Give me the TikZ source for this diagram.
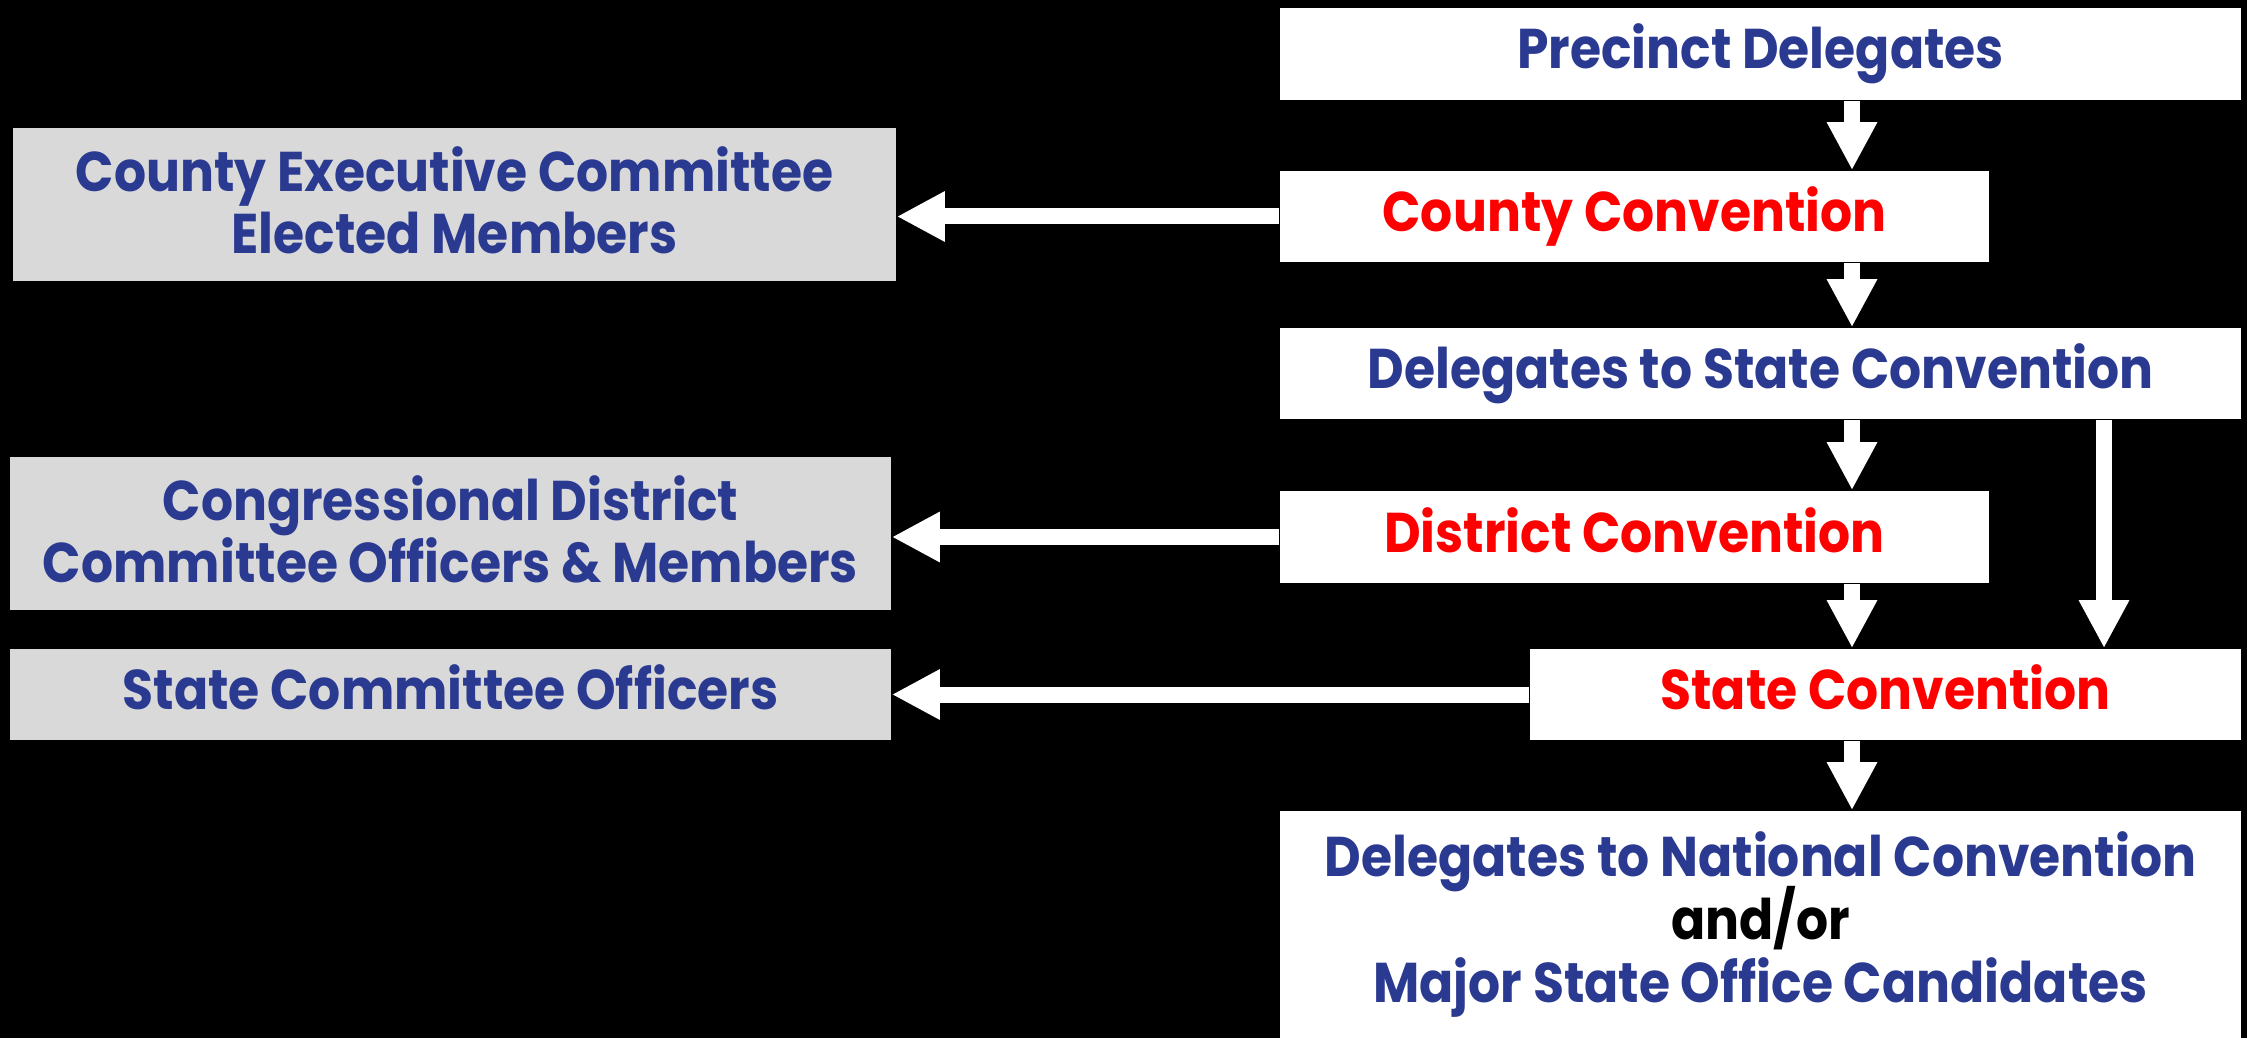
\documentclass[tikz,border=0pt]{standalone}
\usepackage{fontspec}
\setmainfont{Poppins}[FakeStretch=0.9]
\usetikzlibrary{arrows.meta}
\definecolor{tblue}{RGB}{42,58,145}
\definecolor{tgray}{RGB}{217,217,217}
\definecolor{tred}{RGB}{255,0,0}
\newcommand{\natfont}{\bfseries\fontsize{14}{15.75}\selectfont\lineskiplimit=-20pt\relax}
\begin{document}
\begin{tikzpicture}[x=0.25pt,y=-0.25pt,
  box/.style={fill=white, inner sep=0pt, font=\bfseries\fontsize{14}{15.5}\selectfont, align=center, text=tblue},
  one/.style={text height=10pt, text depth=2.5pt},
  gbox/.style={box, fill=tgray},
  redtext/.style={text=tred},
  arr/.style={white, line width=4pt, -{Triangle[width=11.75pt,length=12pt]}}]
\fill[black] (0,0) rectangle (2247,1038);
\useasboundingbox (0,0) rectangle (2247,1038);
% right column
\node[box, one, minimum width=240.25pt, minimum height=23pt] (prec) at (1760.5,54) {Precinct Delegates};
\node[box, one, redtext, minimum width=177.25pt, minimum height=22.75pt] (county) at (1634.5,216.5) {County Convention};
\node[box, one, minimum width=240.25pt, minimum height=22.75pt] (dsc) at (1760.5,373.5) {Delegates to State Convention};
\node[box, one, redtext, minimum width=177.25pt, minimum height=23pt] (district) at (1634.5,537) {District Convention};
\node[box, one, redtext, minimum width=177.75pt, minimum height=22.75pt] (state) at (1885.5,694.5) {State Convention};
\node[box, minimum width=240.25pt, minimum height=56.75pt, font=\natfont] (national) at (1760.5,924.5) {Delegates to National Convention\\\textcolor{black}{and/or}\\Major State Office Candidates};
% left column
\node[gbox, text depth=2pt, minimum width=220.75pt, minimum height=38.25pt] (cexec) at (454.5,204.5) {County Executive Committee\\Elected Members};
\node[gbox, text depth=2pt, minimum width=220.25pt, minimum height=38.25pt] (cong) at (450.5,533.5) {Congressional District\\Committee Officers \& Members};
\node[gbox, one, minimum width=220.25pt, minimum height=22.75pt] (scomm) at (450.5,694.5) {State Committee Officers};
% arrows
\coordinate (ax) at (1852,0);
\coordinate (bx) at (2104,0);
\draw[arr] (prec.south -| ax) -- (county.north -| ax);
\draw[arr] (county.south -| ax) -- (dsc.north -| ax);
\draw[arr] (dsc.south -| ax) -- (district.north -| ax);
\draw[arr] (district.south -| ax) -- (state.north -| ax);
\draw[arr] (dsc.south -| bx) -- (state.north -| bx);
\draw[arr] (state.south -| ax) -- (national.north -| ax);
\draw[arr] (county.west) -- (cexec.east |- county.west);
\draw[arr] (district.west) -- (cong.east |- district.west);
\draw[arr] (state.west) -- (scomm.east);
\end{tikzpicture}
\end{document}
